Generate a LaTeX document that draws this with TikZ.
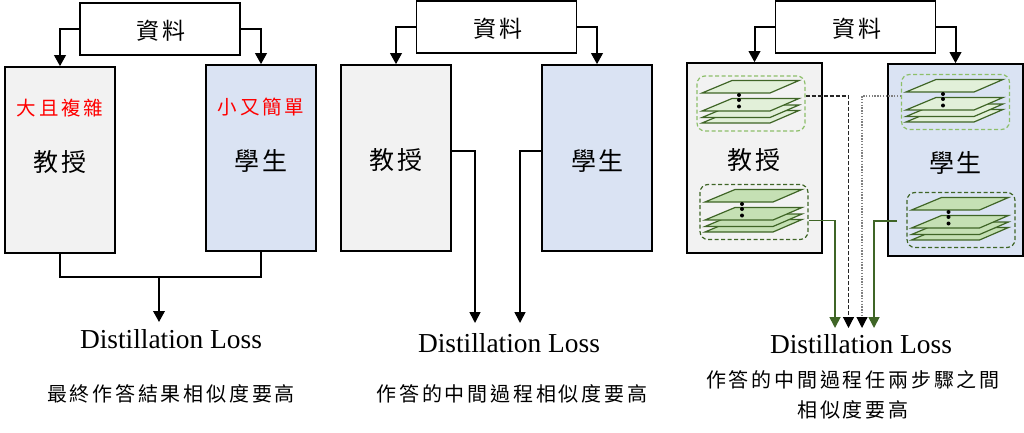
\documentclass[tikz,border=0pt]{standalone}
\usepackage{fontspec}
\setmainfont{Liberation Serif}
\newfontfamily\cjkd[LetterSpace=10]{Noto Sans CJK TC}
\newfontfamily\cjkc[LetterSpace=14]{Noto Sans CJK TC}
\usetikzlibrary{arrows.meta,calc}
\definecolor{tfill}{HTML}{F2F2F2}
\definecolor{sfill}{HTML}{DAE3F3}
\definecolor{lgreen}{HTML}{E2F0D9}
\definecolor{mgreen}{HTML}{C5E0B4}
\definecolor{dgreen}{HTML}{3F6526}
\definecolor{bgreen}{HTML}{8DBF6A}
\tikzset{
  databox/.style={draw=black,line width=1.6pt,fill=white,minimum width=160pt,minimum height=52pt,inner sep=0pt},
  datat/.style={font=\cjkd\fontsize{23}{23}\selectfont,inner sep=0pt},
  tbox/.style={draw=black,line width=1.6pt,fill=tfill,inner sep=0pt},
  sbox/.style={draw=black,line width=1.6pt,fill=sfill,inner sep=0pt},
  tall/.style={minimum width=110pt,minimum height=186pt},
  who/.style={font=\cjkd\fontsize{25}{25}\selectfont,inner sep=0pt},
  redt/.style={font=\cjkc\fontsize{19.5}{19.5}\selectfont,text=red,inner sep=0pt},
  losst/.style={font=\fontsize{27.4}{27.4}\selectfont,inner sep=0pt},
  capt/.style={font=\cjkc\fontsize{20}{20}\selectfont,inner sep=0pt},
  arr/.style={line width=2pt,-{Triangle[length=11pt,width=11.5pt]}},
  arrt/.style={line width=1.6pt,-{Triangle[length=11pt,width=11pt]}},
  plain/.style={line width=1.4pt},
  grp/.style={rounded corners=8pt,line width=1.2pt,dash pattern=on 4pt off 2.5pt,minimum width=108pt,minimum height=55pt,inner sep=0pt},
  grpl/.style={grp,draw=bgreen},
  grpd/.style={grp,draw=dgreen},
  plane/.style={draw=dgreen,line width=1.2pt},
  gline/.style={draw=dgreen,line width=1.7pt,-{Triangle[length=11pt,width=11pt,color=dgreen,fill=dgreen]}},
  dline/.style={draw=black!85,line width=1.2pt,dash pattern=on 4pt off 2pt,-{Triangle[length=11pt,width=11pt,color=black,fill=black]}},
  oline/.style={draw=black!50,line width=1.1pt,dash pattern=on 1.4pt off 1.4pt,-{Triangle[length=11pt,width=11pt,color=black,fill=black]}},
}
\newcommand{\oneplane}[4]{\draw[plane,fill=#3] ($(#1,#2)+(0,#4)$) -- ++(30,-12.5) -- ++(67,0) -- ++(-29,12.5) -- cycle;}
\newcommand{\planestack}[3]{%
  \oneplane{#1}{#2}{#3}{30}
  \oneplane{#1}{#2}{#3}{24.5}
  \oneplane{#1}{#2}{#3}{18}
  \oneplane{#1}{#2}{#3}{0}
  \foreach \d in {2,7,13.5} \fill[black] (#1+37,#2+\d) circle (2pt);
}
\begin{document}
\begin{tikzpicture}[x=1pt,y=-1pt]
\useasboundingbox (0,0) rectangle (1024,433);
% panel 1
\node[databox] (d1) at (160,29) {};
\node[datat] (dt1) at (161,31) {資料};
\node[tbox,tall] (t1) at (60,160) {};
\node[sbox,tall] (s1) at (261,158) {};
\node[who] (tl1) at (60,162.5) {教授};
\node[who] (sl1) at (261,160.5) {學生};
\node[redt] (rt) at (60,108) {大且複雜};
\node[redt] (rs) at (261,107.5) {小又簡單};
\node[losst] (l1) at (171,339) {Distillation Loss};
\node[capt] (c1) at (171,394) {最終作答結果相似度要高};
\coordinate (j1) at (159,277);
\coordinate (e1) at (159,322);
\draw[arr] (d1.west) -| (t1.north);
\draw[arr] (d1.east) -| (s1.north);
\draw[plain] (t1.south) |- (j1);
\draw[plain] (s1.south) |- (j1);
\draw[arr] (j1) -- (e1);
% panel 2
\node[databox] (d2) at (496.5,27) {};
\node[datat] (dt2) at (498,29) {資料};
\node[tbox,tall] (t2) at (396,158) {};
\node[sbox,tall] (s2) at (597,158) {};
\node[who] (tl2) at (396,160.5) {教授};
\node[who] (sl2) at (597.5,160.5) {學生};
\node[losst] (l2) at (509,343) {Distillation Loss};
\node[capt] (c2) at (512,394) {作答的中間過程相似度要高};
\coordinate (e2a) at (475,323);
\coordinate (e2b) at (520,323);
\coordinate (y2) at (0,151);
\draw[arr] (d2.west) -| (t2.north);
\draw[arr] (d2.east) -| (s2.north);
\draw[arrt] (t2.east |- y2) -| (e2a);
\draw[arrt] (s2.west |- y2) -| (e2b);
% panel 3
\node[databox] (d3) at (855.5,27) {};
\node[datat] (dt3) at (857,29) {資料};
\node[tbox,minimum width=135pt,minimum height=190pt] (t3) at (754.5,158) {};
\node[sbox,minimum width=135pt,minimum height=192pt] (s3) at (955.5,160) {};
\node[who] (tl3) at (754,160.5) {教授};
\node[who] (sl3) at (955.5,162.5) {學生};
\planestack{702}{93}{lgreen}
\planestack{705}{202}{mgreen}
\planestack{906}{92}{lgreen}
\planestack{911.5}{210}{mgreen}
\node[grpl] (g1) at (751,103.5) {};
\node[grpd] (g2) at (754,212) {};
\node[grpl] (g3) at (955.5,102) {};
\node[grpd] (g4) at (961,220) {};
\node[losst] (l3) at (861,344) {Distillation Loss};
\node[capt] (c3) at (853,380) {作答的中間過程任兩步驟之間};
\node[capt] (c4) at (853,410) {相似度要高};
\coordinate (e3a) at (835,328);
\coordinate (e3b) at (848.5,328);
\coordinate (e3c) at (862,328);
\coordinate (e3d) at (874,328);
\coordinate (y3a) at (0,96);
\coordinate (y3b) at (0,220.5);
\coordinate (s4) at (897,221);
\draw[arr] (d3.west) -| (t3.north);
\draw[arr] (d3.east) -| (s3.north);
\draw[gline] (g2.east |- y3b) -| (e3a);
\draw[dline] (g1.east |- y3a) -| (e3b);
\draw[oline] (g3.west |- y3a) -| (e3c);
\draw[gline] (s4) -| (e3d);
\end{tikzpicture}
\end{document}
